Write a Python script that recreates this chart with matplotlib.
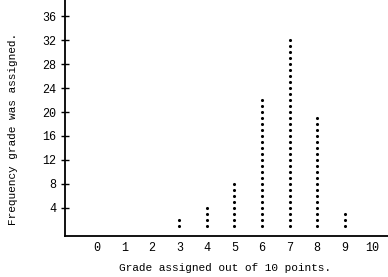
import matplotlib
matplotlib.use("Agg")
import matplotlib.pyplot as plt

grades = [0, 1, 2, 3, 4, 5, 6, 7, 8, 9, 10]
counts = [0, 0, 0, 2, 4, 8, 22, 32, 19, 3, 0]
y_ticks = [4, 8, 12, 16, 20, 24, 28, 32, 36]

plt.rcParams['font.family'] = ['Liberation Mono', 'DejaVu Sans Mono']

fig = plt.figure(figsize=(3.88, 2.77), dpi=100)
ax = fig.add_axes([65 / 388, 41 / 277, 1 - 65 / 388, 1 - 41 / 277])

# one dot per occurrence
for g, n in zip(grades, counts):
    if n == 0:
        continue
    ax.scatter([g] * n, list(range(1, n + 1)), s=5, c="black", linewidths=0)

ax.set_xlim(-1.16, 10.58)
ax.set_ylim(-0.67, 38.67)
ax.set_xticks(grades)
ax.set_xticklabels([str(g) for g in grades])
ax.set_yticks(y_ticks)
ax.tick_params(axis="x", length=0, pad=4, labelsize=8.5)
ax.tick_params(axis="y", direction="inout", length=6, width=1, pad=3, labelsize=8.5)

for s in ["top", "right"]:
    ax.spines[s].set_visible(False)
for s in ["left", "bottom"]:
    ax.spines[s].set_linewidth(1.3)

ax.set_xlabel("Grade assigned out of 10 points.", fontsize=8)
ax.set_ylabel("Frequency grade was assigned.", fontsize=8)
ax.xaxis.set_label_coords((225 - 65) / 323, -27 / 236)
ax.yaxis.set_label_coords(-47 / 323, (236 - 129) / 236)

fig.savefig("out.png", dpi=100)
